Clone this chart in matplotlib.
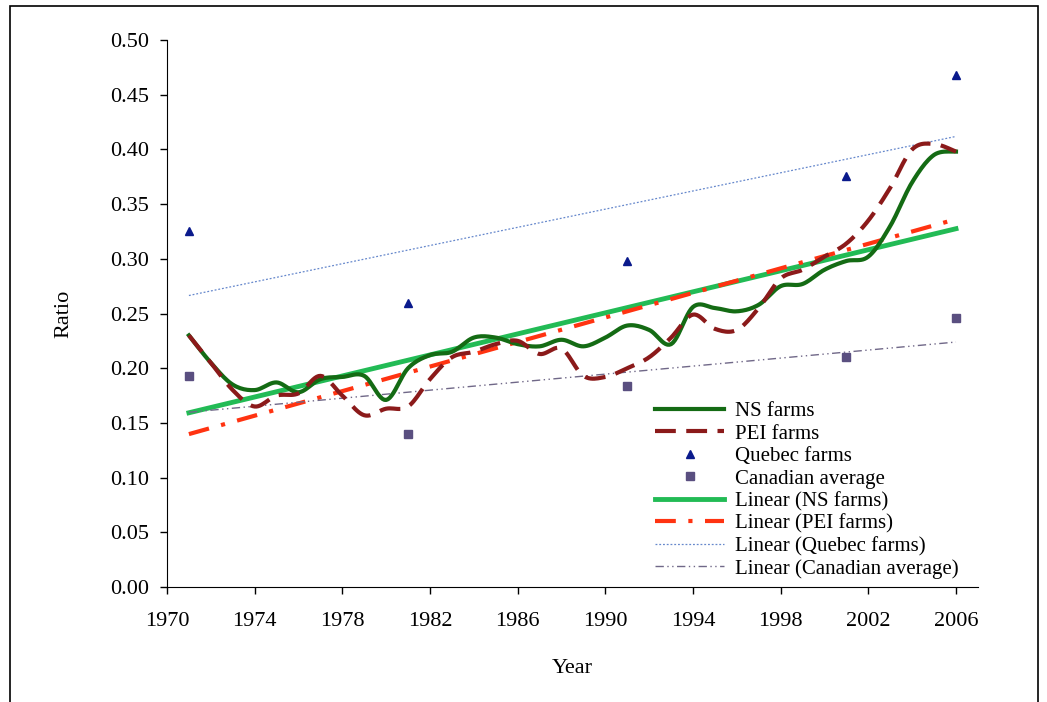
import numpy as np
import matplotlib
matplotlib.use("Agg")
import matplotlib.pyplot as plt
from matplotlib.patches import Rectangle

plt.rcParams["font.family"] = ["Liberation Serif", "DejaVu Serif"]

years = np.arange(1971, 2007)
ns_farms = [0.230, 0.205, 0.185, 0.180, 0.187, 0.178, 0.190, 0.192, 0.193, 0.171,
            0.200, 0.212, 0.215, 0.228, 0.228, 0.222, 0.220, 0.226, 0.220, 0.228,
            0.239, 0.235, 0.222, 0.256, 0.255, 0.252, 0.258, 0.275, 0.277, 0.290,
            0.298, 0.302, 0.330, 0.370, 0.395, 0.398]
pei_farms = [0.230, 0.205, 0.180, 0.165, 0.175, 0.177, 0.193, 0.175, 0.157, 0.163,
             0.165, 0.190, 0.210, 0.215, 0.222, 0.225, 0.213, 0.218, 0.193, 0.192,
             0.200, 0.210, 0.228, 0.249, 0.236, 0.235, 0.255, 0.282, 0.290, 0.302,
             0.314, 0.335, 0.365, 0.400, 0.405, 0.398]
census_years = [1971, 1981, 1991, 2001, 2006]
quebec_farms = [0.325, 0.260, 0.298, 0.376, 0.468]
canadian_avg = [0.193, 0.140, 0.184, 0.210, 0.246]


def smooth(x, y, n=12):
    # Catmull-Rom curve, like Excel's "smoothed line"
    x = np.asarray(x, float)
    y = np.asarray(y, float)
    px = np.concatenate([[x[0]], x, [x[-1]]])
    py = np.concatenate([[y[0]], y, [y[-1]]])
    t = np.linspace(0, 1, n, endpoint=False)
    xs, ys = [], []
    for i in range(1, len(px) - 2):
        for arr, out in ((px, xs), (py, ys)):
            p0, p1, p2, p3 = arr[i - 1], arr[i], arr[i + 1], arr[i + 2]
            out.extend(0.5 * (2 * p1 + (-p0 + p2) * t
                              + (2 * p0 - 5 * p1 + 4 * p2 - p3) * t ** 2
                              + (-p0 + 3 * p1 - 3 * p2 + p3) * t ** 3))
    xs.append(x[-1])
    ys.append(y[-1])
    return np.array(xs), np.array(ys)


def trend(x, y):
    k, b = np.polyfit(x, y, 1)
    xx = np.array([x[0], x[-1]], float)
    return xx, k * xx + b


fig = plt.figure(figsize=(10.47, 7.02), dpi=100)
ax = fig.add_axes([0.1595, 0.1638, 0.7745, 0.7792])

sx, sy = smooth(years, ns_farms)
ax.plot(sx, sy, color="#146b14", lw=3, label="NS farms", zorder=4)
sx, sy = smooth(years, pei_farms)
ax.plot(sx, sy, color="#8b1a1a", lw=3, dashes=(5, 2.5), label="PEI farms", zorder=4)
ax.plot(census_years, quebec_farms, "^", color="#0a1a8c", ms=6, ls="none",
        label="Quebec farms", zorder=5)
ax.plot(census_years, canadian_avg, "s", color="#5a4f80", ms=6, ls="none",
        label="Canadian average", zorder=5)

tx, ty = trend(years, ns_farms)
ax.plot(tx, ty, color="#22bb55", lw=3.5, label="Linear (NS farms)", zorder=3)
tx, ty = trend(years, pei_farms)
ax.plot(tx, ty, color="#ff3311", lw=3, dashes=(5, 3, 1, 3), label="Linear (PEI farms)", zorder=3)
tx, ty = trend(census_years, quebec_farms)
ax.plot(tx, ty, color="#6688cc", lw=0.9, ls=(0, (1.5, 1.5)), label="Linear (Quebec farms)", zorder=3)
tx, ty = trend(census_years, canadian_avg)
ax.plot(tx, ty, color="#706888", lw=1.0, dashes=(6, 2.5, 1, 2.5, 1, 2.5),
        label="Linear (Canadian average)", zorder=3)

ax.set_xlim(1970, 2007)
ax.set_ylim(0, 0.5)
ax.set_xticks(np.arange(1970, 2007, 4))
ax.set_yticks(np.arange(0, 0.501, 0.05))
ax.yaxis.set_major_formatter(matplotlib.ticker.FormatStrFormatter("%.2f"))
ax.tick_params(labelsize=16, length=5, width=1, direction="out")
ax.tick_params(axis="x", pad=13)
ax.tick_params(axis="y", pad=8)
ax.spines["top"].set_visible(False)
ax.spines["right"].set_visible(False)
ax.set_xlabel("Year", fontsize=16, labelpad=20)
ax.set_ylabel("Ratio", fontsize=16, labelpad=26)

ax.legend(loc="lower left", bbox_to_anchor=(0.592, 0.0), frameon=False, fontsize=15,
          handlelength=3.3, handletextpad=0.5, labelspacing=0.14, borderaxespad=0)

fig.patches.append(Rectangle((10 / 1047, -0.1), 1028 / 1047, 1.1 - 6 / 702,
                             transform=fig.transFigure, fill=False, ec="black", lw=1.2))

fig.savefig("out.png", dpi=100)
